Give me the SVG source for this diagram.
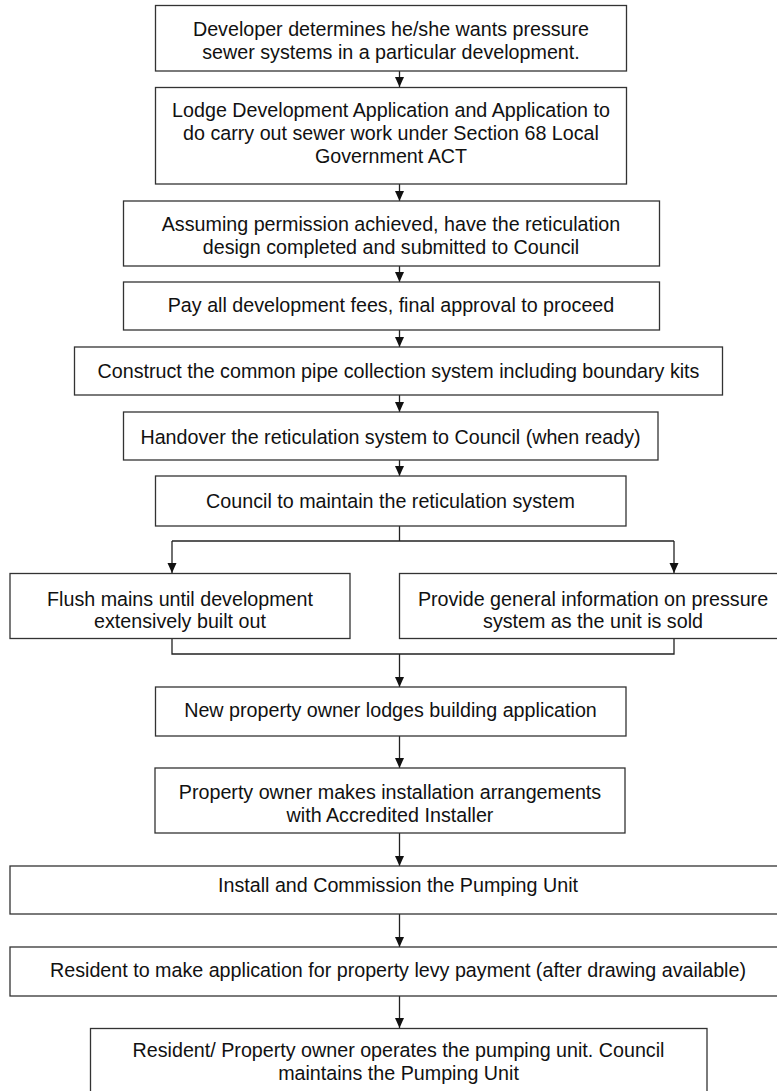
<svg xmlns="http://www.w3.org/2000/svg" width="777" height="1091" viewBox="0 0 777 1091">
<defs>
<style>
.box{fill:#ffffff;stroke:#333333;stroke-width:1.3}
.t{font-family:"Liberation Sans",Arial,sans-serif;font-size:19.7px;fill:#111111;text-anchor:middle}
.c{fill:none;stroke:#222222;stroke-width:1.3}
</style>
<marker id="ah" markerUnits="userSpaceOnUse" markerWidth="10" markerHeight="10" refX="10" refY="4.5" orient="auto">
<path d="M0,0 L10,4.5 L0,9 Z" fill="#111111"/>
</marker>
</defs>
<rect width="777" height="1091" fill="#ffffff"/>
<g id="connectors">
<line class="c" x1="399.5" y1="71" x2="399.5" y2="87" marker-end="url(#ah)"/>
<line class="c" x1="399.5" y1="184" x2="399.5" y2="201" marker-end="url(#ah)"/>
<line class="c" x1="399.5" y1="266" x2="399.5" y2="282" marker-end="url(#ah)"/>
<line class="c" x1="399.5" y1="330" x2="399.5" y2="347" marker-end="url(#ah)"/>
<line class="c" x1="399.5" y1="395" x2="399.5" y2="412" marker-end="url(#ah)"/>
<line class="c" x1="399.5" y1="460" x2="399.5" y2="476" marker-end="url(#ah)"/>
<polyline class="c" points="399.5,526 399.5,541"/>
<polyline class="c" points="172,541 674,541"/>
<line class="c" x1="172" y1="541" x2="172" y2="573" marker-end="url(#ah)"/>
<line class="c" x1="674" y1="541" x2="674" y2="573" marker-end="url(#ah)"/>
<polyline class="c" points="172,638 172,654 674,654 674,638"/>
<line class="c" x1="399.5" y1="654" x2="399.5" y2="687" marker-end="url(#ah)"/>
<line class="c" x1="399.5" y1="736" x2="399.5" y2="768" marker-end="url(#ah)"/>
<line class="c" x1="399.5" y1="833" x2="399.5" y2="866" marker-end="url(#ah)"/>
<line class="c" x1="399.5" y1="914" x2="399.5" y2="947" marker-end="url(#ah)"/>
<line class="c" x1="399.5" y1="996" x2="399.5" y2="1028" marker-end="url(#ah)"/>
</g>
<g id="n1"><rect class="box" x="155.5" y="5.5" width="471" height="65.5"/>
<text class="t" x="391" y="36">Developer determines he/she wants pressure</text>
<text class="t" x="391" y="59">sewer systems in a particular development.</text></g>
<g id="n2"><rect class="box" x="155.5" y="87.5" width="471" height="96.5"/>
<text class="t" x="391" y="117">Lodge Development Application and Application to</text>
<text class="t" x="391" y="140">do carry out sewer work under Section 68 Local</text>
<text class="t" x="391" y="163">Government ACT</text></g>
<g id="n3"><rect class="box" x="123.5" y="201" width="536" height="65"/>
<text class="t" x="391" y="231">Assuming permission achieved, have the reticulation</text>
<text class="t" x="391" y="253.5">design completed and submitted to Council</text></g>
<g id="n4"><rect class="box" x="123.5" y="282" width="536" height="48"/>
<text class="t" x="391" y="312">Pay all development fees, final approval to proceed</text></g>
<g id="n5"><rect class="box" x="74.5" y="347" width="648" height="48"/>
<text class="t" x="398.5" y="377.5">Construct the common pipe collection system including boundary kits</text></g>
<g id="n6"><rect class="box" x="123.5" y="412" width="534.5" height="48"/>
<text class="t" x="390.5" y="443.5">Handover the reticulation system to Council (when ready)</text></g>
<g id="n7"><rect class="box" x="155.5" y="476" width="470.5" height="50"/>
<text class="t" x="390.5" y="508">Council to maintain the reticulation system</text></g>
<g id="n8"><rect class="box" x="10" y="573.5" width="340" height="65"/>
<text class="t" x="180" y="605.5">Flush mains until development</text>
<text class="t" x="180" y="627.5">extensively built out</text></g>
<g id="n9"><rect class="box" x="399.5" y="573.5" width="388" height="65"/>
<text class="t" x="593" y="605.5">Provide general information on pressure</text>
<text class="t" x="593" y="627.5">system as the unit is sold</text></g>
<g id="n10"><rect class="box" x="155.5" y="687" width="470.5" height="49"/>
<text class="t" x="390.5" y="717">New property owner lodges building application</text></g>
<g id="n11"><rect class="box" x="155" y="768" width="470" height="65"/>
<text class="t" x="390" y="799">Property owner makes installation arrangements</text>
<text class="t" x="390" y="821.5">with Accredited Installer</text></g>
<g id="n12"><rect class="box" x="10" y="866" width="776" height="48"/>
<text class="t" x="398" y="892">Install and Commission the Pumping Unit</text></g>
<g id="n13"><rect class="box" x="10" y="947" width="776" height="49"/>
<text class="t" x="398" y="977">Resident to make application for property levy payment (after drawing available)</text></g>
<g id="n14"><rect class="box" x="90.5" y="1028.5" width="616.5" height="80"/>
<text class="t" x="398.5" y="1057">Resident/ Property owner operates the pumping unit. Council</text>
<text class="t" x="398.5" y="1080">maintains the Pumping Unit</text></g>
</svg>
